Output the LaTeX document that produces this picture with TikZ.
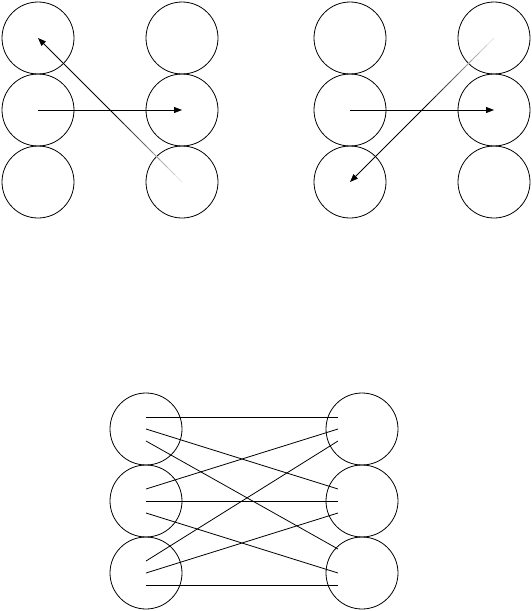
\documentclass[tikz,border=0pt]{standalone}
\usetikzlibrary{arrows.meta,calc}

\begin{document}
\begin{tikzpicture}[x=1pt,y=-1pt,
    ball/.style={circle, draw, minimum size=72pt, inner sep=0pt, line width=0.8pt},
    link/.style={line width=0.8pt},
    move/.style={line width=0.8pt, -{Triangle[length=8pt,width=6pt]}}]
    \useasboundingbox (0,0) rectangle (532,611);

    % two upper boards
    \foreach \r/\y in {1/38,2/110,3/182} {
        \node[ball] (p\r) at (38,\y) {};
        \node[ball] (q\r) at (182,\y) {};
        \node[ball] (s\r) at (350,\y) {};
        \node[ball] (t\r) at (494,\y) {};
    }

    \draw[move] (p2.center) -- (q2.center);
    \draw[move] (s2.center) -- (t2.center);

    % faded start of the diagonal moves
    \foreach \i in {1,...,10} {
        \pgfmathsetmacro{\fa}{(\i-1)/20}
        \pgfmathsetmacro{\fb}{\i/20}
        \pgfmathtruncatemacro{\tone}{10*\i}
        \draw[link, black!\tone] ($(q3.center)!\fa!(p1.center)$) -- ($(q3.center)!\fb!(p1.center)$);
        \draw[link, black!\tone] ($(t1.center)!\fa!(s3.center)$) -- ($(t1.center)!\fb!(s3.center)$);
    }
    \draw[move] ($(q3.center)!0.5!(p1.center)$) -- (p1.center);
    \draw[move] ($(t1.center)!0.5!(s3.center)$) -- (s3.center);

    % lower board
    \foreach \r/\y in {1/429,2/501,3/573} {
        \node[ball] (l\r) at (146,\y) {};
        \node[ball] (r\r) at (362,\y) {};
    }
    \foreach \a/\da/\b/\db in {l1/-12/r1/-12, l1/0/r2/-12, l1/12/r3/-24,
                               l2/-12/r1/0, l2/0/r2/0, l2/12/r3/0,
                               l3/-12/r1/12, l3/0/r2/12, l3/12/r3/12}
        \draw[link] ([shift={(0,\da)}]\a.center) -- ([shift={(-24,\db)}]\b.center);
\end{tikzpicture}
\end{document}
